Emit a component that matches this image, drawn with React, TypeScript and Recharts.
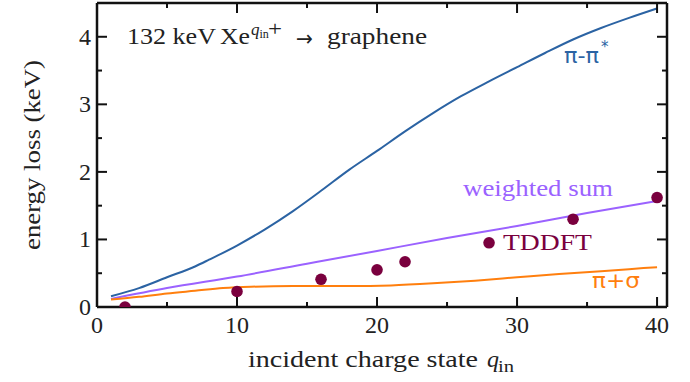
import React from "react";
import { ComposedChart, Line, Scatter, XAxis, YAxis } from "recharts";

// π-π* curve
const piPiStarQ = [1, 3, 5, 7, 8, 10, 12, 14, 16, 18, 20, 22, 24, 26, 28, 30, 32, 34, 36, 38, 40];
const piPiStarV = [0.16, 0.28, 0.44, 0.6, 0.7, 0.91, 1.15, 1.42, 1.72, 2.03, 2.31, 2.6, 2.87, 3.12, 3.34, 3.55, 3.76, 3.96, 4.13, 4.28, 4.42];
// weighted sum
const weightedQ = [1, 5, 10, 15, 20, 25, 30, 35, 40];
const weightedV = [0.12, 0.28, 0.45, 0.64, 0.83, 1.02, 1.2, 1.39, 1.57];
// π+σ
const piSigmaQ = [1, 3, 5, 7, 9, 11, 14, 18, 21, 24, 27, 30, 33, 36, 38, 40];
const piSigmaV = [0.11, 0.15, 0.2, 0.24, 0.28, 0.3, 0.31, 0.31, 0.32, 0.35, 0.39, 0.44, 0.49, 0.53, 0.56, 0.59];
// TDDFT points
const tddftQ = [2, 10, 16, 20, 22, 28, 34, 40];
const tddftV = [0.0, 0.23, 0.41, 0.55, 0.67, 0.95, 1.3, 1.62];

const xTicks = [0, 5, 10, 15, 20, 25, 30, 35, 40];
const yTicks = [0, 0.5, 1, 1.5, 2, 2.5, 3, 3.5, 4, 4.5];
const xMajor = [0, 10, 20, 30, 40];
const yMajor = [0, 1, 2, 3, 4];

const zip = (q: number[], v: number[]) => q.map((x, i) => ({ q: x, v: v[i] }));
const piPiStarData = zip(piPiStarQ, piPiStarV);
const weightedData = zip(weightedQ, weightedV);
const piSigmaData = zip(piSigmaQ, piSigmaV);
const tddftData = zip(tddftQ, tddftV);

const BLUE = "#2b63a3";
const PURPLE = "#9b62ff";
const ORANGE = "#ff7f0e";
const MAROON = "#7a003e";
const SERIF = "Liberation Serif";
const SANS = "DejaVu Sans";
const FS = 24;
const TICK = "#111";

const BottomTick = (p: any) => {
  const v = p.payload.value;
  const major = xMajor.includes(v);
  return (
    <g>
      <path d={`M${p.x},${p.y}V${p.y - (major ? 10 : 5)}`} stroke={TICK} strokeWidth={2} />
      {major && (
        <text x={p.x} y={p.y + 26} textAnchor="middle" fontFamily={SERIF} fontSize={FS} fill="#222">
          {v}
        </text>
      )}
    </g>
  );
};
const TopTick = (p: any) => {
  const v = p.payload.value;
  const major = xMajor.includes(v);
  return <path d={`M${p.x},${p.y}V${p.y + (major ? 10 : 5)}`} stroke={TICK} strokeWidth={2} />;
};
const LeftTick = (p: any) => {
  const v = p.payload.value;
  const major = yMajor.includes(v);
  return (
    <g>
      <path d={`M${p.x},${p.y}H${p.x + (major ? 10 : 5)}`} stroke={TICK} strokeWidth={2} />
      {major && (
        <text x={p.x - 6} y={p.y + 8} textAnchor="end" fontFamily={SERIF} fontSize={FS} fill="#222">
          {v}
        </text>
      )}
    </g>
  );
};
const RightTick = (p: any) => {
  const v = p.payload.value;
  const major = yMajor.includes(v);
  return <path d={`M${p.x},${p.y}H${p.x - (major ? 10 : 5)}`} stroke={TICK} strokeWidth={2} />;
};

const Dot = (p: any) => <circle cx={p.cx} cy={p.cy} r={5.8} fill={MAROON} />;

export default function App() {
  return (
    <div style={{ position: "fixed", left: 0, top: 0, width: 690, height: 382, background: "#fff" }}>
      <ComposedChart width={690} height={382} margin={{ top: 2, right: 22, bottom: 0, left: 0 }}>
        <XAxis dataKey="q" type="number" domain={[0, 40.71]} ticks={xTicks} interval={0} height={75} tickSize={0} tickMargin={0} tickLine={false} axisLine={{ stroke: TICK, strokeWidth: 2.5 }} tick={BottomTick} allowDataOverflow />
        <XAxis xAxisId="top" orientation="top" dataKey="q" type="number" domain={[0, 40.71]} ticks={xTicks} interval={0} height={1} tickSize={0} tickMargin={0} tickLine={false} axisLine={{ stroke: TICK, strokeWidth: 2.5 }} tick={TopTick} allowDataOverflow />
        <YAxis type="number" domain={[0, 4.5]} ticks={yTicks} interval={0} width={97} tickSize={0} tickMargin={0} tickLine={false} axisLine={{ stroke: TICK, strokeWidth: 2.5 }} tick={LeftTick} allowDataOverflow />
        <YAxis yAxisId="right" orientation="right" type="number" domain={[0, 4.5]} ticks={yTicks} interval={0} width={1} tickSize={0} tickMargin={0} tickLine={false} axisLine={{ stroke: TICK, strokeWidth: 2.5 }} tick={RightTick} allowDataOverflow />
        <Line data={piPiStarData} dataKey="v" type="monotone" stroke={BLUE} strokeWidth={2} dot={false} isAnimationActive={false} />
        <Line data={weightedData} dataKey="v" type="monotone" stroke={PURPLE} strokeWidth={2} dot={false} isAnimationActive={false} />
        <Line data={piSigmaData} dataKey="v" type="monotone" stroke={ORANGE} strokeWidth={2} dot={false} isAnimationActive={false} />
        <Scatter data={tddftData} dataKey="v" shape={Dot} isAnimationActive={false} />
      </ComposedChart>
      <svg width={690} height={382} style={{ position: "absolute", left: 0, top: 0, pointerEvents: "none" }}>
        {/* title */}
        <g fontFamily={SERIF} fill="#222">
          <text x={127} y={44} fontSize={FS} textLength={89} lengthAdjust="spacingAndGlyphs">132 keV</text>
          <text x={220} y={44} fontSize={FS} textLength={30} lengthAdjust="spacingAndGlyphs">Xe</text>
          <text x={251} y={35} fontSize={17} fontStyle="italic">q</text>
          <text x={259.5} y={38} fontSize={12}>in</text>
          <text x={268} y={36} fontSize={21} textLength={14} lengthAdjust="spacingAndGlyphs">+</text>
          <text x={296} y={46} fontFamily={SANS} fontSize={22} textLength={17} lengthAdjust="spacingAndGlyphs">→</text>
          <text x={327} y={44} fontSize={FS} textLength={100} lengthAdjust="spacingAndGlyphs">graphene</text>
        </g>
        {/* series labels */}
        <text x={564} y={63} fontFamily={SANS} fontSize={21} fill={BLUE} textLength={35} lengthAdjust="spacingAndGlyphs">π-π</text>
        <text x={601} y={52} fontFamily={SANS} fontSize={15} fill={BLUE}>*</text>
        <text x={463} y={196} fontFamily={SERIF} fontSize={FS} fill={PURPLE} textLength={150} lengthAdjust="spacingAndGlyphs">weighted sum</text>
        <text x={503} y={250} fontFamily={SERIF} fontSize={FS} fill={MAROON} textLength={89} lengthAdjust="spacingAndGlyphs">TDDFT</text>
        <text x={592} y={288} fontFamily={SANS} fontSize={21} fill={ORANGE} textLength={48} lengthAdjust="spacingAndGlyphs">π+σ</text>
        {/* axis labels */}
        <g fontFamily={SERIF} fill="#222">
          <text x={248} y={367} fontSize={FS} textLength={230} lengthAdjust="spacingAndGlyphs">incident charge state</text>
          <text x={487} y={367} fontSize={FS} fontStyle="italic">q</text>
          <text x={498} y={372} fontSize={16} textLength={16} lengthAdjust="spacingAndGlyphs">in</text>
          <text x={0} y={0} fontSize={FS} textAnchor="middle" textLength={190} lengthAdjust="spacingAndGlyphs" transform="translate(40,155) rotate(-90)">
            energy loss (keV)
          </text>
        </g>
      </svg>
    </div>
  );
}
